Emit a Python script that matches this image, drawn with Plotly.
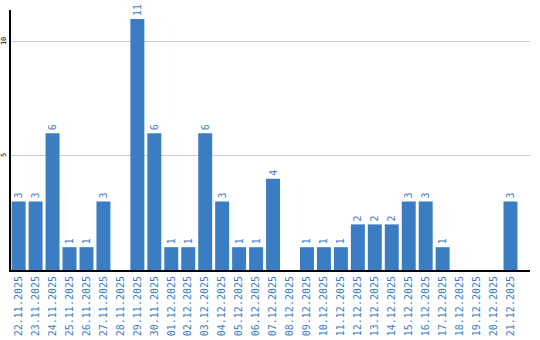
import plotly.graph_objects as go

dates = ["22.11.2025", "23.11.2025", "24.11.2025", "25.11.2025", "26.11.2025", "27.11.2025",
         "28.11.2025", "29.11.2025", "30.11.2025", "01.12.2025", "02.12.2025", "03.12.2025",
         "04.12.2025", "05.12.2025", "06.12.2025", "07.12.2025", "08.12.2025", "09.12.2025",
         "10.12.2025", "11.12.2025", "12.12.2025", "13.12.2025", "14.12.2025", "15.12.2025",
         "16.12.2025", "17.12.2025", "18.12.2025", "19.12.2025", "20.12.2025", "21.12.2025"]
values = [3, 3, 6, 1, 1, 3, 0, 11, 6, 1, 1, 6, 3, 1, 1, 4, 0, 1, 1, 1, 2, 2, 2, 3, 3, 1, 0, 0, 0, 3]
labels = [str(v) if v > 0 else "" for v in values]

blue = "#3b7dc3"
mono = "DejaVu Sans Mono"

fig = go.Figure(go.Bar(
    x=list(range(len(dates))), y=values, text=labels,
    textposition="outside", textangle=-90,
    textfont=dict(family=mono, size=10, color=blue),
    marker=dict(color=blue, line=dict(width=0)),
    cliponaxis=False, hoverinfo="skip",
))

fig.update_layout(
    width=540, height=340,
    margin=dict(l=11, r=10, t=10, b=70),
    paper_bgcolor="white", plot_bgcolor="white",
    bargap=0.176, showlegend=False,
    font=dict(family=mono),
)
fig.update_xaxes(
    tickmode="array", tickvals=list(range(len(dates))), ticktext=dates,
    tickangle=-90, tickfont=dict(family=mono, size=10, color=blue),
    range=[-0.45, 30.15], showgrid=False, showline=True, linecolor="black",
    linewidth=2, ticks="", zeroline=False, automargin=False,
)
fig.update_yaxes(
    range=[0, 11.4], tickvals=[5, 10], tickangle=-90,
    tickfont=dict(family=mono, size=7, color="black"),
    showgrid=True, gridcolor="#cccccc", gridwidth=1,
    showline=True, linecolor="black", linewidth=2, ticks="", zeroline=False,
    ticklabelstandoff=0, automargin=False,
)

fig.write_html("out.html")
